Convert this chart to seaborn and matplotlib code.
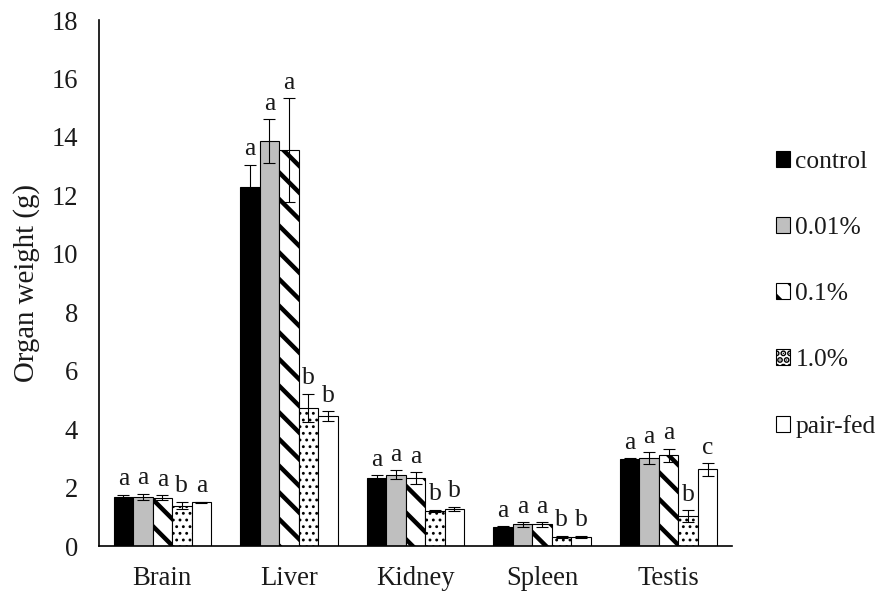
import matplotlib
matplotlib.use("Agg")
import matplotlib.pyplot as plt
import seaborn as sns
import pandas as pd
import numpy as np

organs = ["Brain", "Liver", "Kidney", "Spleen", "Testis"]
groups = ["control", "0.01%", "0.1%", "1.0%", "pair-fed"]

control = [1.67, 12.29, 2.32, 0.66, 2.98]
p001 = [1.68, 13.86, 2.44, 0.74, 3.00]
p01 = [1.65, 13.55, 2.32, 0.74, 3.10]
p1 = [1.38, 4.73, 1.20, 0.32, 1.03]
pairfed = [1.49, 4.45, 1.28, 0.32, 2.62]

control_err = [0.08, 0.75, 0.10, 0.02, 0.03]
p001_err = [0.11, 0.74, 0.15, 0.08, 0.20]
p01_err = [0.09, 1.77, 0.20, 0.08, 0.23]
p1_err = [0.13, 0.48, 0.04, 0.03, 0.20]
pairfed_err = [0.02, 0.16, 0.07, 0.03, 0.21]

control_lab = ["a", "a", "a", "a", "a"]
p001_lab = ["a", "a", "a", "a", "a"]
p01_lab = ["a", "a", "a", "a", "a"]
p1_lab = ["b", "b", "b", "b", "b"]
pairfed_lab = ["a", "b", "b", "b", "c"]

values = [control, p001, p01, p1, pairfed]
errors = [control_err, p001_err, p01_err, p1_err, pairfed_err]
labels = [control_lab, p001_lab, p01_lab, p1_lab, pairfed_lab]

rows = []
for g, vals in zip(groups, values):
    for o, v in zip(organs, vals):
        rows.append({"organ": o, "group": g, "weight": v})
df = pd.DataFrame(rows)

sns.set_theme(style="white")
plt.rcParams["font.family"] = ["Liberation Serif", "DejaVu Serif"]
plt.rcParams["hatch.linewidth"] = 4.0

DPI = 80
fig = plt.figure(figsize=(886 / DPI, 597 / DPI), dpi=DPI)
ax = fig.add_axes([99 / 886, 1 - 546 / 597, (732 - 99) / 886, (546 - 20) / 597])

colors = ["black", "#bfbfbf", "white", "white", "white"]
sns.barplot(data=df, x="organ", y="weight", hue="group", order=organs,
            hue_order=groups, palette=colors, width=0.77, gap=0,
            errorbar=None, edgecolor="black", linewidth=1.0, ax=ax,
            legend=False, saturation=1)

hatches = [None, None, "\\", "..", None]
hatch_lw = [1.0, 1.0, 4.0, 1.4, 1.0]
for cont, h, hl in zip(ax.containers, hatches, hatch_lw):
    for p in cont.patches:
        if h:
            p.set_hatch(h)
        if hasattr(p, "set_hatch_linewidth"):
            p.set_hatch_linewidth(hl)

for cont, errs, labs in zip(ax.containers, errors, labels):
    xs = [p.get_x() + p.get_width() / 2 for p in cont.patches]
    hs = [p.get_height() for p in cont.patches]
    ax.errorbar(xs, hs, yerr=errs, fmt="none", ecolor="black",
                elinewidth=1.0, capsize=5, capthick=1.0)
    for x, h, e, l in zip(xs, hs, errs, labs):
        ax.annotate(l, (x, h + e), xytext=(0, 4), textcoords="offset points",
                    ha="center", va="bottom", fontsize=23, color="#1a1a1a")

ax.set_ylim(0, 18)
ax.set_xlim(-0.5, 4.5)
ax.set_yticks(np.arange(0, 19, 2))
ax.set_xlabel("")
ax.set_ylabel("Organ weight (g)", fontsize=26, color="#1a1a1a", labelpad=10)
ax.tick_params(axis="both", length=0, labelsize=24, colors="#1a1a1a")
ax.tick_params(axis="y", pad=19)
ax.tick_params(axis="x", pad=18)
for s in ["top", "right"]:
    ax.spines[s].set_visible(False)
for s in ["left", "bottom"]:
    ax.spines[s].set_color("black")
    ax.spines[s].set_linewidth(1.5)

leg = ax.legend(ax.containers, groups, loc="upper left",
                bbox_to_anchor=(766 / 886, 1 - 141 / 597),
                bbox_transform=fig.transFigure, frameon=False,
                fontsize=23, handlelength=0.55, handleheight=0.55,
                handletextpad=0.2, labelspacing=1.72, borderaxespad=0)
for t in leg.get_texts():
    t.set_color("#1a1a1a")

fig.savefig("out.png", dpi=DPI)
